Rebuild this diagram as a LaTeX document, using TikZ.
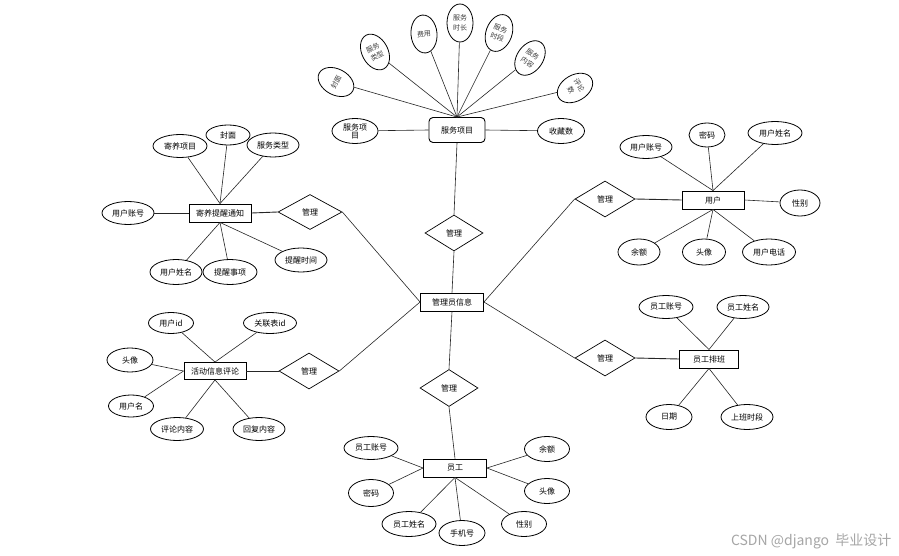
\documentclass[tikz,border=0pt]{standalone}
\usepackage{fontspec}
\setmainfont{Noto Sans CJK SC}
\usetikzlibrary{shapes.geometric}
\begin{document}
\begin{tikzpicture}[x=1pt,y=-1pt,
  font=\fontsize{8}{9}\selectfont,
  ent/.style={draw=black,line width=0.9pt,fill=white,rectangle,inner sep=0pt},
  attr/.style={draw=black,line width=0.8pt,fill=white,ellipse,inner sep=0pt,align=center},
  tattr/.style={attr,minimum width=26,minimum height=38,font=\fontsize{7}{9.5}\selectfont,text=black!75},
  rel/.style={draw=black,line width=0.7pt,fill=white,diamond,inner sep=0pt,minimum width=60,minimum height=36},
  ln/.style={draw=black!85,line width=0.6pt}]
\useasboundingbox (0,0) rectangle (899,556);
\fill[white] (0,0) rectangle (899,556);

% ---------- entities ----------
\node[ent,rounded corners=4pt,minimum width=56,minimum height=25] (svc) at (457,130) {服务项目};
\node[ent,minimum width=63,minimum height=18] (ctr) at (452,302) {管理员信息};
\node[ent,minimum width=62,minimum height=18] (rem) at (220,213) {寄养提醒通知};
\node[ent,minimum width=62,minimum height=18] (user) at (713,200) {用户};
\node[ent,minimum width=62,minimum height=17] (cmt) at (215,371) {活动信息评论};
\node[ent,minimum width=59,minimum height=18] (sched) at (709,359) {员工排班};
\node[ent,minimum width=63,minimum height=18] (emp) at (455,468) {员工};

% ---------- relations ----------
\node[rel,minimum width=64,minimum height=35] (d1) at (310,212) {管理};
\node[rel] (dU) at (605,199) {管理};
\node[rel] (dC) at (309,371) {管理};
\node[rel] (dS) at (605,358) {管理};
\node[rel,minimum width=58,minimum height=37] (dE) at (449,388) {管理};
\node[rel,minimum width=58] (dT) at (454,233) {管理};

% ---------- service attributes ----------
\node[attr,minimum width=46,minimum height=25] (s0) at (355,131) {服务项\\[-1pt]目};
\node[attr,minimum width=47,minimum height=25] (s9) at (561,131) {收藏数};
\node[tattr,rotate=62] (s1) at (336,82) {封面};
\node[tattr,rotate=28] (s2) at (375,52) {服务\\类型};
\node[tattr,rotate=5] (s3) at (424,34) {费用};
\node[tattr] (s4) at (460,23) {服务\\时长};
\node[tattr,rotate=-20] (s5) at (499,33) {服务\\时段};
\node[tattr,rotate=-35] (s6) at (530,58) {服务\\内容};
\node[tattr,rotate=-60] (s7) at (575,88) {评论\\数};

% ---------- reminder attributes ----------
\node[attr,minimum width=54,minimum height=23] (r1) at (180,146) {寄养项目};
\node[attr,minimum width=44,minimum height=20] (r2) at (228,135) {封面};
\node[attr,minimum width=52,minimum height=24] (r3) at (273,145) {服务类型};
\node[attr,minimum width=52,minimum height=23] (r4) at (128,213) {用户账号};
\node[attr,minimum width=52,minimum height=25] (r5) at (176,272) {用户姓名};
\node[attr,minimum width=54,minimum height=25] (r6) at (230,272) {提醒事项};
\node[attr,minimum width=52,minimum height=24] (r7) at (301,260) {提醒时间};

% ---------- user attributes ----------
\node[attr,minimum width=52,minimum height=23] (u1) at (646,147) {用户账号};
\node[attr,minimum width=36,minimum height=24] (u2) at (707,135) {密码};
\node[attr,minimum width=54,minimum height=23] (u3) at (775,133) {用户姓名};
\node[attr,minimum width=40,minimum height=26] (u4) at (800,203) {性别};
\node[attr,minimum width=42,minimum height=26] (u5) at (639,252) {余额};
\node[attr,minimum width=43,minimum height=26] (u6) at (704,252) {头像};
\node[attr,minimum width=53,minimum height=26] (u7) at (769,252) {用户电话};

% ---------- comment attributes ----------
\node[attr,minimum width=45,minimum height=21] (c1) at (171,323) {用户id};
\node[attr,minimum width=53,minimum height=21] (c2) at (270,323) {关联表id};
\node[attr,minimum width=46,minimum height=24] (c3) at (130,360) {头像};
\node[attr,minimum width=45,minimum height=22] (c4) at (131,406) {用户名};
\node[attr,minimum width=53,minimum height=23] (c5) at (177,429) {评论内容};
\node[attr,minimum width=52,minimum height=23] (c6) at (259,429) {回复内容};

% ---------- schedule attributes ----------
\node[attr,minimum width=54,minimum height=23] (p1) at (666,307) {员工账号};
\node[attr,minimum width=52,minimum height=23] (p2) at (743,307) {员工姓名};
\node[attr,minimum width=46,minimum height=25] (p3) at (669,417) {日期};
\node[attr,minimum width=52,minimum height=25] (p4) at (747,417) {上班时段};

% ---------- employee attributes ----------
\node[attr,minimum width=54,minimum height=23] (e1) at (371,448) {员工账号};
\node[attr,minimum width=45,minimum height=27] (e2) at (371,493) {密码};
\node[attr,minimum width=54,minimum height=25] (e3) at (409,524) {员工姓名};
\node[attr,minimum width=46,minimum height=25] (e4) at (462,533) {手机号};
\node[attr,minimum width=45,minimum height=25] (e5) at (524,524) {性别};
\node[attr,minimum width=45,minimum height=25] (e6) at (547,449) {余额};
\node[attr,minimum width=45,minimum height=25] (e7) at (547,491) {头像};

% ---------- connectors ----------
\draw[ln] (s0) -- (svc.west);
\draw[ln] (s9) -- (svc.east);
\foreach \a in {s1,s2,s3,s4,s5,s6,s7} \draw[ln] (\a) -- (svc.north);
\draw[ln] (svc.south) -- (dT.north);
\draw[ln] (dT.south) -- (ctr.north);
\draw[ln] (ctr.south) -- (dE.north);
\draw[ln] (dE.south) -- (emp.north);
\draw[ln] (d1.east) -- (ctr.west);
\draw[ln] (dC.east) -- (ctr.west);
\draw[ln] (dU.west) -- (ctr.east);
\draw[ln] (dS.west) -- (ctr.east);
\draw[ln,line width=0.9pt] (d1.west) -- (rem.east);
\draw[ln,line width=0.9pt] (dU.east) -- (user.west);
\draw[ln,line width=0.9pt] (dC.west) -- (cmt.east);
\draw[ln,line width=0.9pt] (dS.east) -- (sched.west);

\foreach \a in {r1,r2,r3} \draw[ln] (\a) -- (rem.north);
\draw[ln,line width=0.9pt] (r4) -- (rem.west);
\foreach \a in {r5,r6,r7} \draw[ln] (\a) -- (rem.south);

\foreach \a in {u1,u2,u3} \draw[ln] (\a) -- (user.north);
\draw[ln] (u4) -- (user.east);
\foreach \a in {u5,u6,u7} \draw[ln] (\a) -- (user.south);

\foreach \a in {c1,c2} \draw[ln] (\a) -- (cmt.north);
\foreach \a in {c3,c4} \draw[ln] (\a) -- (cmt.west);
\foreach \a in {c5,c6} \draw[ln] (\a) -- (cmt.south);

\foreach \a in {p1,p2} \draw[ln] (\a) -- (sched.north);
\foreach \a in {p3,p4} \draw[ln] (\a) -- (sched.south);

\foreach \a in {e1,e2} \draw[ln] (\a) -- (emp.west);
\foreach \a in {e3,e4,e5} \draw[ln] (\a) -- (emp.south);
\foreach \a in {e6,e7} \draw[ln] (\a) -- (emp.east);

% ---------- watermark ----------
\node[anchor=east,text=black!35,font=\fontsize{14}{16}\selectfont] (wm) at (895,541) {CSDN @django\ \ 毕业设计};
\end{tikzpicture}
\end{document}
